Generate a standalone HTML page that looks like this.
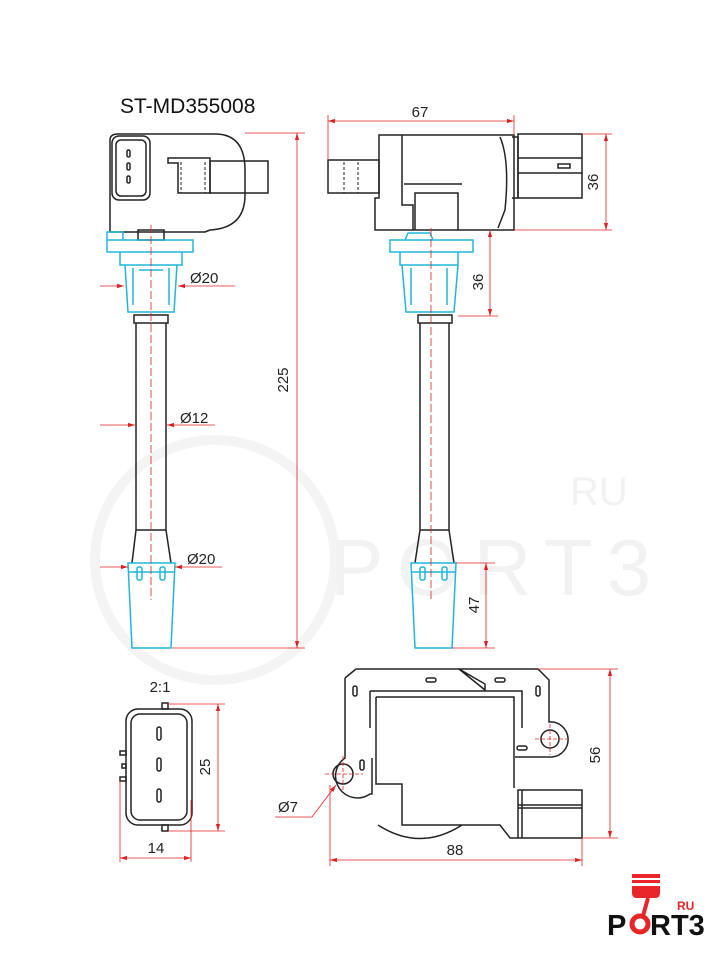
<!DOCTYPE html>
<html><head><style>
html,body{margin:0;padding:0;background:#fff;}
svg{display:block;font-family:"Liberation Sans",sans-serif;}
</style></head><body>
<svg width="720" height="960" viewBox="0 0 720 960" xmlns="http://www.w3.org/2000/svg">
<defs>
<marker id="a" viewBox="0 0 10 10" refX="10" refY="5" markerWidth="9" markerHeight="9" orient="auto-start-reverse"><path d="M0,2 L10,5 L0,8 z" fill="#e02020"/></marker>
</defs>
<!-- watermark -->
<g fill="none" stroke="#f4f4f4" stroke-width="10">
<circle cx="215" cy="560" r="120"/>
</g>
<text x="330" y="595" font-size="80" fill="#f2f2f2" letter-spacing="14">PORT3</text>
<text x="570" y="505" font-size="40" fill="#f2f2f2">RU</text>

<text x="120" y="113" font-size="21" fill="#111">ST-MD355008</text>

<!-- LEFT VIEW -->
<g stroke="#222" stroke-width="1.5" fill="none">
<path d="M110,232 L110,140 Q110,134 118,134 L215,134 Q245,134 245,170 L245,195 Q245,228 210,230 L205,232 Z"/>
<rect x="112" y="136" width="38" height="64" rx="7"/>
<rect x="116" y="140" width="30" height="56" rx="5"/>
<rect x="127" y="150" width="3" height="7" rx="1.5"/><rect x="127" y="163" width="3" height="7" rx="1.5"/><rect x="127" y="176" width="3" height="7" rx="1.5"/>
<path d="M168,158 L210,158 L210,193 L178,193 L178,163 L168,163 Z"/>
<rect x="210" y="161" width="58" height="32"/>
<path d="M181,162 L181,193 M205,162 L205,193" stroke-dasharray="3,2" stroke-width="1"/>
<rect x="138" y="230" width="26" height="10"/>
<rect x="134" y="315" width="34" height="8"/>
<path d="M136,323 L136,530 L132,563 M166,323 L166,530 L171,563 M136,530 L166,530"/>
</g>
<g stroke="#22b5d8" stroke-width="1.5" fill="none">
<path d="M107,240 L107,232 L123,232 L123,240 M107,240 L193,240 L193,252 L107,252 Z"/>
<path d="M120,252 L120,265 L182,265 L182,252"/>
<path d="M125,265 L128,312 L174,312 L177,265"/>
<path d="M133,268 L133,305 M169,268 L169,305 M139,270 L163,270"/>
<path d="M128,563 L175,563 L171,648 L132,648 Z M128,572 L175,572"/>
<rect x="137" y="567" width="5" height="13" rx="2"/><rect x="160" y="567" width="5" height="13" rx="2"/>
</g>
<g stroke="#e02020" stroke-width="0.8" fill="none">
<line x1="151" y1="225" x2="151" y2="600" stroke-dasharray="8,3"/>
<line x1="245" y1="133" x2="305" y2="133"/><line x1="172" y1="648" x2="305" y2="648"/>
<line x1="297" y1="133" x2="297" y2="648" marker-start="url(#a)" marker-end="url(#a)"/>
<line x1="100" y1="286" x2="124" y2="286" marker-end="url(#a)"/><line x1="235" y1="286" x2="178" y2="286" marker-end="url(#a)"/>
<line x1="100" y1="425" x2="135" y2="425" marker-end="url(#a)"/><line x1="215" y1="425" x2="167" y2="425" marker-end="url(#a)"/>
<line x1="100" y1="567" x2="128" y2="567" marker-end="url(#a)"/><line x1="222" y1="567" x2="175" y2="567" marker-end="url(#a)"/>
</g>
<g font-size="15" fill="#222">
<text x="190" y="283">Ø20</text><text x="180" y="423">Ø12</text><text x="187" y="564">Ø20</text>
<text x="298" y="390" transform="rotate(-90 288 390)" text-anchor="middle">225</text>
</g>

<!-- RIGHT VIEW -->
<g stroke="#222" stroke-width="1.5" fill="none">
<rect x="328" y="160" width="51" height="33"/>
<path d="M344,162 L344,193 M358,162 L358,193" stroke-dasharray="3,2" stroke-width="1"/>
<path d="M379,135 L514,135 L514,230 L375,230 L375,198 L379,198 Z"/>
<path d="M402,135 L402,205 L413,205 L413,230 M415,230 L415,193 L458,193 L458,230 M404,184 L462,184"/>
<path d="M500,137 Q510,160 505,210 L498,228"/>
<rect x="518" y="134" width="64" height="64"/>
<path d="M518,158 L582,158 M518,173 L582,173 M512,137 L518,137 L518,198 L512,198"/>
<rect x="558" y="164" width="12" height="4"/>
<rect x="418" y="315" width="34" height="8"/>
<path d="M420,323 L420,530 L415,563 M449,323 L449,530 L454,563 M420,530 L449,530"/>
</g>
<g stroke="#22b5d8" stroke-width="1.5" fill="none">
<path d="M390,240 L473,240 L473,252 L390,252 Z M405,240 L408,233 L430,233 L433,240"/>
<path d="M400,252 L400,265 L458,265 L458,252"/>
<path d="M402,265 L406,312 L454,312 L458,265"/>
<path d="M411,268 L411,305 M447,268 L447,305"/>
<path d="M411,563 L456,563 L452,648 L415,648 Z M411,572 L456,572"/>
<rect x="420" y="567" width="5" height="13" rx="2"/><rect x="442" y="567" width="5" height="13" rx="2"/>
</g>
<g stroke="#e02020" stroke-width="0.8" fill="none">
<line x1="431" y1="228" x2="431" y2="600" stroke-dasharray="8,3"/>
<line x1="328" y1="115" x2="328" y2="160"/><line x1="514" y1="115" x2="514" y2="135"/>
<line x1="328" y1="121" x2="514" y2="121" marker-start="url(#a)" marker-end="url(#a)"/>
<line x1="582" y1="134" x2="612" y2="134"/><line x1="514" y1="230" x2="612" y2="230"/>
<line x1="606" y1="134" x2="606" y2="230" marker-start="url(#a)" marker-end="url(#a)"/>
<line x1="458" y1="316" x2="498" y2="316"/>
<line x1="490" y1="230" x2="490" y2="316" marker-start="url(#a)" marker-end="url(#a)"/>
<line x1="456" y1="563" x2="495" y2="563"/><line x1="452" y1="648" x2="495" y2="648"/>
<line x1="486" y1="563" x2="486" y2="648" marker-start="url(#a)" marker-end="url(#a)"/>
</g>
<g font-size="15" fill="#222">
<text x="420" y="117" text-anchor="middle">67</text>
<text x="598" y="182" transform="rotate(-90 598 182)" text-anchor="middle">36</text>
<text x="483" y="282" transform="rotate(-90 483 282)" text-anchor="middle">36</text>
<text x="479" y="605" transform="rotate(-90 479 605)" text-anchor="middle">47</text>
</g>

<!-- SMALL CONNECTOR -->
<g stroke="#222" stroke-width="1.5" fill="none">
<rect x="126" y="709" width="66" height="116" rx="12"/>
<rect x="131" y="714" width="56" height="106" rx="9"/>
<rect x="157" y="727" width="4" height="13" rx="2"/><rect x="157" y="758" width="4" height="13" rx="2"/><rect x="157" y="789" width="4" height="13" rx="2"/>
<rect x="162" y="703" width="6" height="6"/><rect x="162" y="825" width="6" height="6"/>
<rect x="120" y="751" width="6" height="4"/><rect x="122" y="764" width="4" height="4"/><rect x="120" y="777" width="6" height="4"/>
</g>
<g stroke="#e02020" stroke-width="0.8" fill="none">
<line x1="168" y1="704" x2="225" y2="704"/><line x1="168" y1="831" x2="225" y2="831"/>
<line x1="218" y1="704" x2="218" y2="831" marker-start="url(#a)" marker-end="url(#a)"/>
<line x1="120" y1="781" x2="120" y2="862"/><line x1="191" y1="800" x2="191" y2="862"/>
<line x1="120" y1="858" x2="191" y2="858" marker-start="url(#a)" marker-end="url(#a)"/>
</g>
<g font-size="15" fill="#222">
<text x="160" y="692" text-anchor="middle">2:1</text>
<text x="210" y="767" transform="rotate(-90 210 767)" text-anchor="middle">25</text>
<text x="156" y="853" text-anchor="middle">14</text>
</g>

<!-- BOTTOM RIGHT -->
<g stroke="#222" stroke-width="1.5" fill="none">
<path d="M356,669 L459,669 L485,684 L485,690 L459,669 M459,669 L538,669 L549,680 L549,722 A17,17 0 1 1 552,757 L515,757 M345,678 L356,669 M345,678 L345,758 A17,17 0 1 0 370,794 L372,794 L372,758"/>
<path d="M370,691 L522,691 L522,728 M370,691 L370,728 M376,697 L514,697 L514,788 M376,697 L376,784 L402,784 L402,825 L500,825 L510,838 L518,838 M378,825 Q420,852 462,825"/>
<circle cx="343" cy="774" r="10"/><circle cx="550" cy="739" r="9"/>
<rect x="426" y="678" width="10" height="4" rx="2"/><rect x="495" y="678" width="10" height="4" rx="2"/>
<rect x="353" y="686" width="4" height="10" rx="2"/><rect x="536" y="686" width="4" height="10" rx="2"/>
<rect x="360" y="760" width="4" height="10" rx="2"/><rect x="517" y="746" width="10" height="4" rx="2"/>
<rect x="518" y="790" width="64" height="48"/>
<path d="M522,790 L522,838 M518,805 L582,805 M518,808 L582,808"/>
</g>
<g stroke="#e02020" stroke-width="0.8" fill="none">
<path d="M325,774 L363,774 M343,756 L343,792 M535,739 L567,739 M550,724 L550,755" stroke-dasharray="4,2"/>
<line x1="538" y1="669" x2="618" y2="669"/><line x1="582" y1="838" x2="618" y2="838"/>
<line x1="610" y1="669" x2="610" y2="838" marker-start="url(#a)" marker-end="url(#a)"/>
<line x1="330" y1="785" x2="330" y2="866"/><line x1="582" y1="838" x2="582" y2="866"/>
<line x1="330" y1="860" x2="582" y2="860" marker-start="url(#a)" marker-end="url(#a)"/>
<path d="M275,817 L312,817 L336,785" marker-end="url(#a)"/>
</g>
<g font-size="15" fill="#222">
<text x="600" y="755" transform="rotate(-90 600 755)" text-anchor="middle">56</text>
<text x="455" y="855" text-anchor="middle">88</text>
<text x="278" y="812">Ø7</text>
</g>

<!-- LOGO -->
<g>
<rect x="632" y="874" width="28" height="4" fill="#e8262a"/>
<rect x="632" y="880" width="28" height="3" fill="#e8262a"/>
<path d="M632,886 L660,886 L660,893 Q660,898 655,898 L637,898 Q632,898 632,893 Z" fill="#e8262a"/>
<text x="607" y="935" font-size="29" font-weight="bold" fill="#111">P</text>
<circle cx="640" cy="924" r="8" fill="none" stroke="#e8262a" stroke-width="5"/>
<line x1="643" y1="916" x2="648" y2="898" stroke="#e8262a" stroke-width="4"/>
<text x="650" y="935" font-size="29" font-weight="bold" fill="#111">RT3</text>
<text x="677" y="910" font-size="12" font-weight="bold" fill="#e8262a">RU</text>
</g>
</svg>
</body></html>
